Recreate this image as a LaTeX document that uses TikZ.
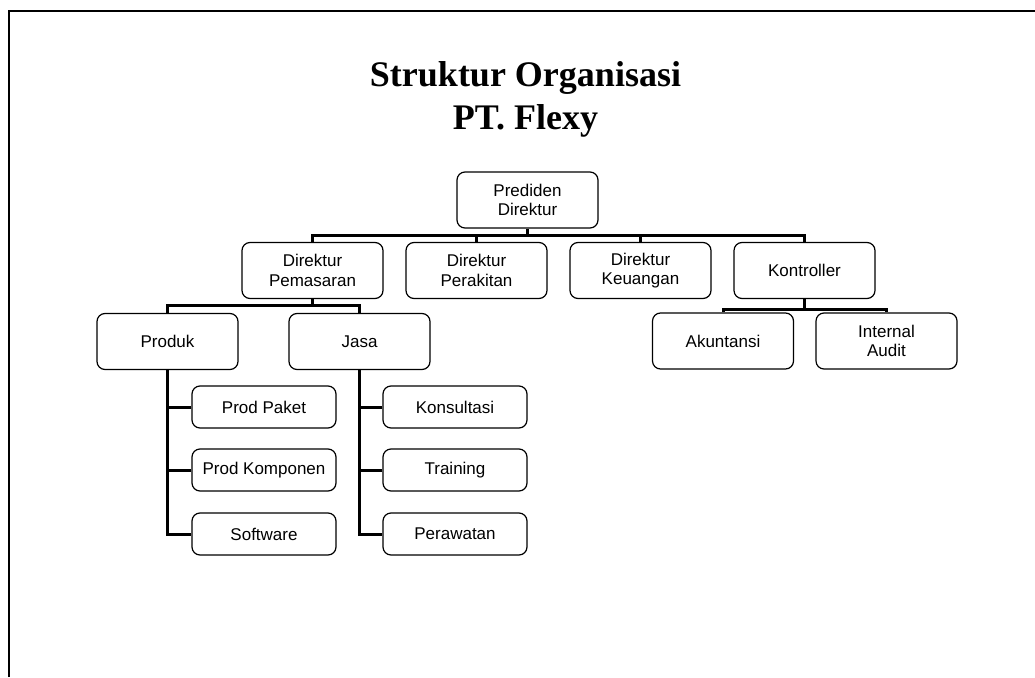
\documentclass[tikz,border=0pt]{standalone}
\usepackage{fontspec}
\setmainfont{Liberation Sans}
\newfontfamily\titlefont{Liberation Serif}
\begin{document}
\begin{tikzpicture}[x=1pt,y=-1pt,
  box/.style={draw=black, line width=1.2pt, fill=white, rounded corners=8pt,
    minimum width=141pt, minimum height=56pt, inner sep=0pt, align=center,
    font=\fontsize{17}{19.5}\selectfont},
  smallbox/.style={box, minimum width=144pt, minimum height=42pt},
  conn/.style={draw=black, line width=3pt},
  ttl/.style={anchor=base, inner sep=0pt, font=\titlefont\bfseries\fontsize{36}{42}\selectfont}]
\useasboundingbox (0,0) rectangle (1035,677);
% frame
\draw[line width=2pt] (9,677) -- (9,11.3) -- (1036,11.3);
% title
\node[ttl] (t1) at (525.5,86.7) {Struktur Organisasi};
\node[ttl] (t2) at (525.5,129.3) {PT. Flexy};
% nodes
\node[box] (pd) at (527.5,200) {Prediden\\Direktur};
\node[box] (dp) at (312.5,270.5) {Direktur\\Pemasaran};
\node[box] (dpr) at (476.5,270.5) {Direktur\\Perakitan};
\node[box] (dk) at (640.5,270.5) {Direktur\\Keuangan};
\node[box] (ko) at (804.5,270.5) {Kontroller};
\node[box] (ak) at (723,341) {Akuntansi};
\node[box] (ia) at (886.5,341) {Internal\\Audit};
\node[box] (pr) at (167.5,341.5) {Produk};
\node[box] (js) at (359.5,341.5) {Jasa};
\node[smallbox] (pp) at (264,407) {Prod Paket};
\node[smallbox] (pk) at (264,470) {Prod Komponen};
\node[smallbox] (sw) at (264,534) {Software};
\node[smallbox] (kn) at (455,407) {Konsultasi};
\node[smallbox] (tr) at (455,470) {Training};
\node[smallbox] (pw) at (455,534) {Perawatan};
% bar coordinates
\coordinate (b1) at (527.5,235);
\coordinate (b2) at (312.5,305);
\coordinate (b3) at (804.5,309);
% connectors level 1
\draw[conn] (pd.south) -- (b1);
\draw[conn] (dp.north) |- (b1) -| (ko.north);
\draw[conn] (dpr.north) -- (dpr.north |- b1);
\draw[conn] (dk.north) -- (dk.north |- b1);
% Pemasaran
\draw[conn] (dp.south) -- (b2);
\draw[conn] (pr.north) |- (b2) -| (js.north);
% Kontroller
\draw[conn] (ko.south) -- (b3);
\draw[conn] (ak.north) |- (b3) -| (ia.north);
% Produk children
\draw[conn] (pr.south) |- (sw.west);
\draw[conn] (pp.west) -- (pp.west -| pr.south);
\draw[conn] (pk.west) -- (pk.west -| pr.south);
% Jasa children
\draw[conn] (js.south) |- (pw.west);
\draw[conn] (kn.west) -- (kn.west -| js.south);
\draw[conn] (tr.west) -- (tr.west -| js.south);
\end{tikzpicture}
\end{document}
